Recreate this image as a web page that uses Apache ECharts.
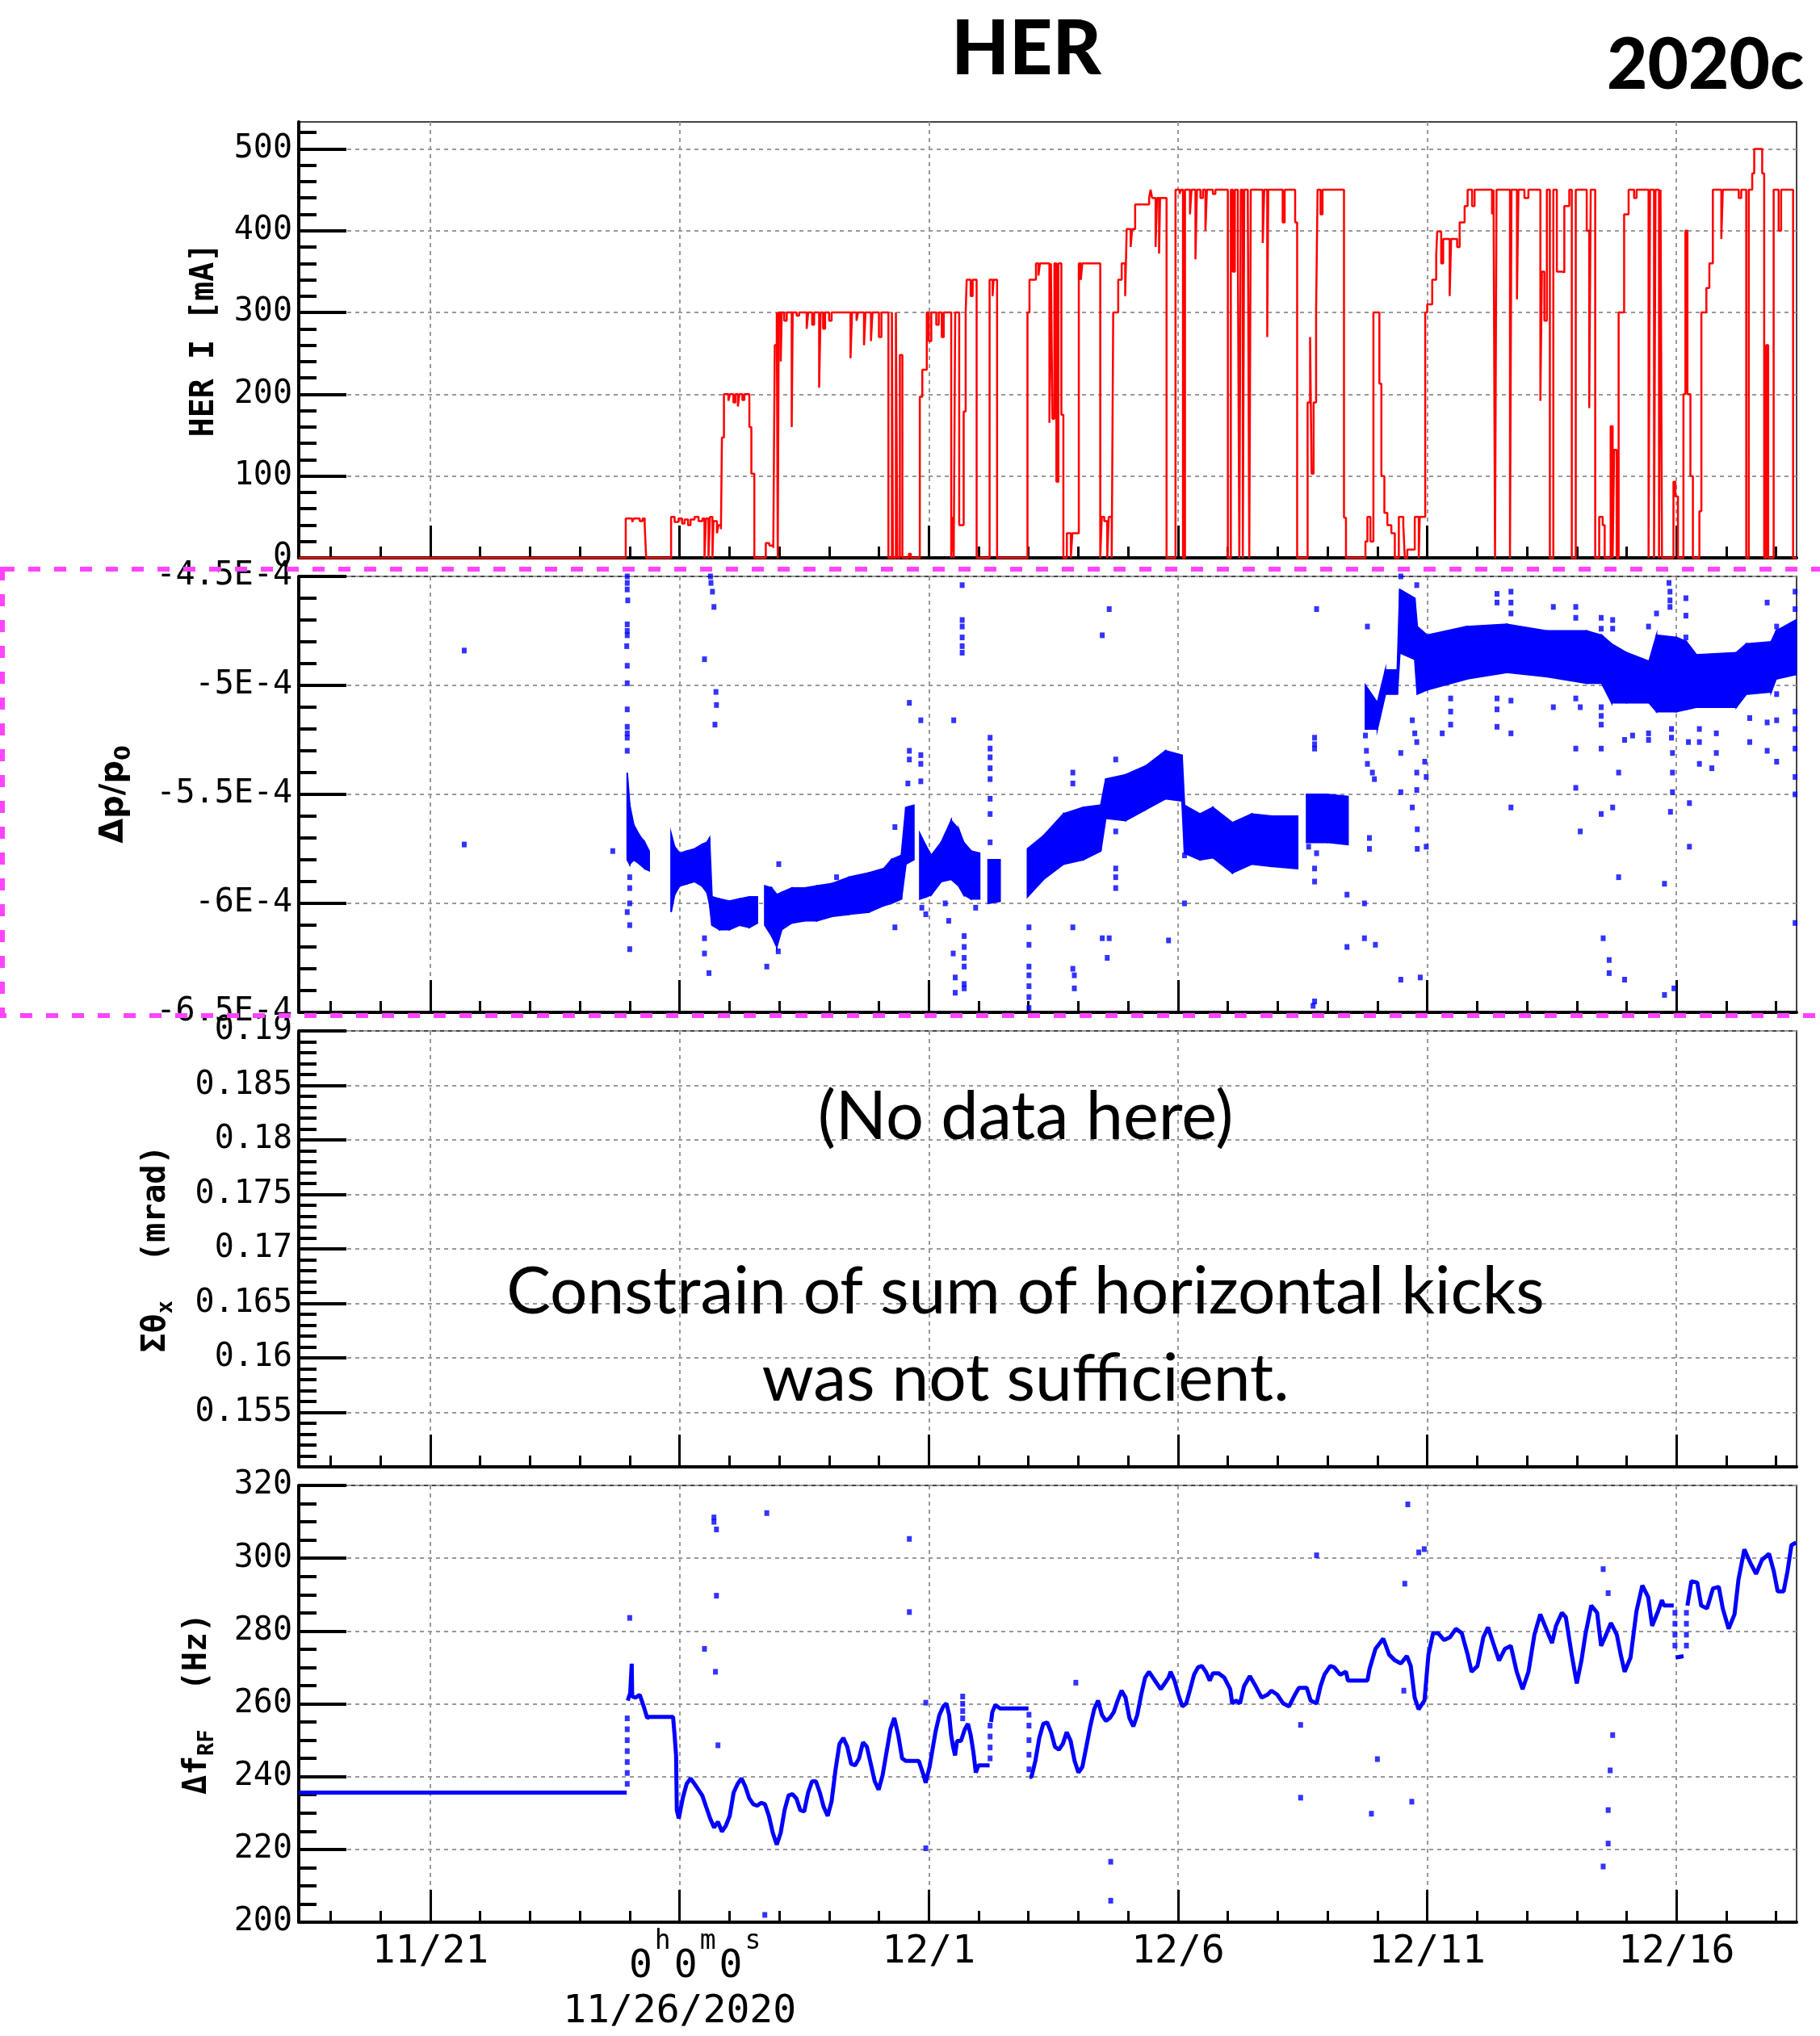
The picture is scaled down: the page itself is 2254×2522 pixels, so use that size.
<!DOCTYPE html>
<html><head><meta charset="utf-8">
<script src="https://cdn.jsdelivr.net/npm/echarts@6/dist/echarts.min.js"></script>
<style>html,body{margin:0;padding:0;background:#fff}#c{width:2254px;height:2522px}</style>
</head><body><div id="c"></div>
<script>
// ---------- time axis (days relative to 11/26/2020 00:00) ----------
const xMajorDays = [-5, 0, 5, 10, 15, 20];
const xMajorLabels = ['11/21', '0h0m0s', '12/1', '12/6', '12/11', '12/16'];
const xOriginDate = '11/26/2020';
const xMinorDays = [-7,-6,-4,-3,-2,-1,1,2,3,4,6,7,8,9,11,12,13,14,16,17,18,19,21,22];
const X_MIN = -7.64, X_MAX = 22.41;

// ---------- panel 1 : HER I [mA] ----------
const herMajor = [0,100,200,300,400,500];
const herMinor = [20,40,60,80,120,140,160,180,220,240,260,280,320,340,360,380,420,440,460,480,520];
const herCurrent = [
[-7.64,0],
[-1.08,48],[-0.95,44],[-0.92,48],[-0.80,45],[-0.74,48],[-0.70,40],[-0.67,0],
[-0.17,50],[-0.10,44],[-0.02,48],[0.05,42],[0.10,47],[0.17,40],[0.22,47],[0.30,50],[0.38,45],[0.46,48],[0.50,0],[0.53,48],[0.58,0],[0.61,50],[0.66,0],[0.68,45],[0.75,30],[0.78,40],[0.83,35],
[0.85,147],[0.89,200],[0.98,192],[1.01,200],[1.08,190],[1.12,200],[1.17,185],[1.20,200],[1.26,193],[1.30,200],[1.40,160],[1.44,103],[1.50,0],
[1.73,18],[1.80,15],[1.88,12],[1.91,260],[1.95,300],[1.97,0],[1.99,300],[2.03,240],[2.05,300],[2.10,290],[2.15,300],[2.25,160],[2.27,300],[2.35,296],[2.40,300],[2.55,280],[2.58,300],[2.66,285],[2.70,300],[2.80,208],[2.83,300],[2.88,280],[2.92,300],[3.00,290],[3.05,300],[3.43,244],[3.46,300],[3.55,290],[3.58,300],[3.70,260],[3.73,300],[3.84,265],[3.87,300],[4.00,270],[4.05,300],[4.19,0],[4.26,300],[4.28,0],[4.34,300],[4.37,0],[4.42,248],[4.47,0],[4.60,5],[4.64,0],
[4.82,197],[4.87,230],[4.96,300],[5.00,265],[5.05,300],[5.15,285],[5.20,300],[5.26,270],[5.30,300],[5.45,0],[5.47,50],[5.50,0],[5.53,300],[5.61,40],[5.70,179],[5.74,300],[5.76,340],[5.84,320],[5.88,340],[5.96,0],[6.22,340],[6.28,320],[6.30,340],[6.37,0],
[6.98,300],[7.02,340],[7.15,360],[7.20,345],[7.23,360],[7.42,165],[7.45,360],[7.48,170],[7.52,360],[7.56,93],[7.60,360],[7.66,175],[7.70,0],[7.77,30],[7.85,0],[7.88,30],[8.01,360],[8.05,340],[8.08,360],[8.44,0],[8.47,50],[8.52,45],[8.58,0],[8.61,50],[8.67,0],[8.70,300],[8.80,340],[8.87,360],[8.94,320],[8.97,402],[9.05,380],[9.08,402],[9.14,432],[9.42,440],[9.45,450],[9.48,440],[9.55,380],[9.58,440],[9.62,372],[9.64,440],[9.77,0],[9.95,450],[10.03,445],[10.06,450],[10.10,0],[10.14,450],[10.24,420],[10.27,450],
[10.35,365],[10.38,450],[10.45,440],[10.50,450],[10.55,400],[10.58,450],[10.70,445],[10.75,450],[11.00,0],[11.06,450],[11.10,350],[11.14,450],[11.20,380],[11.23,0],[11.26,450],[11.30,0],[11.33,450],[11.40,440],[11.43,0],[11.46,450],[11.70,385],[11.73,450],[11.79,270],[11.81,450],[12.10,410],[12.14,450],[12.35,410],[12.39,0],[12.60,190],[12.65,270],[12.68,103],[12.72,190],[12.77,300],[12.80,450],[12.86,420],[12.90,450],[13.33,49],[13.37,0],[13.76,20],[13.80,50],[13.86,20],[13.92,300],[14.04,213],[14.08,100],[14.14,55],[14.20,40],[14.28,30],[14.35,0],[14.43,50],[14.52,40],[14.55,0],[14.60,10],[14.75,50],[14.83,0],[14.85,50],[14.96,300],[15.00,310],[15.10,340],[15.18,370],[15.20,399],[15.28,360],[15.32,390],[15.45,320],[15.48,390],[15.60,380],[15.65,410],[15.75,430],[15.81,450],[15.90,430],[15.95,450],[16.30,420],[16.33,450],[16.36,0],[16.39,450],[16.66,0],[16.69,450],[16.80,316],[16.83,450],[16.95,440],[17.03,450],[17.27,192],[17.30,350],[17.35,290],[17.40,450],[17.46,0],[17.53,450],[17.60,350],[17.70,349],[17.75,430],[17.85,450],[17.90,0],[17.98,450],[18.20,400],[18.25,183],[18.28,450],[18.37,0],[18.45,50],[18.52,40],[18.56,0],[18.68,161],[18.72,0],[18.75,132],[18.80,0],[18.84,300],[18.95,420],[19.04,450],[19.15,440],[19.20,450],[19.44,0],[19.47,450],[19.55,0],[19.58,450],[19.65,0],[19.68,450],[19.71,0],[19.94,93],[19.98,75],[20.03,0],[20.14,200],[20.18,400],[20.22,200],[20.28,100],[20.33,0],[20.46,57],[20.50,300],[20.60,330],[20.66,360],[20.73,450],[20.90,390],[20.93,450],[21.25,440],[21.30,450],[21.40,0],[21.45,450],[21.52,470],[21.56,500],[21.72,470],[21.76,0],[21.80,260],[21.84,0],[21.95,450],[22.05,400],[22.10,450],[22.34,0],[22.41,0]
];

// ---------- panel 2 : Δp/p0 (in units of 1E-4) ----------
// band of the dense readings: [day, low, high]; null = no data
const dpBand = [
[-1.05,-5.80,-5.40],[-1.00,-5.82,-5.55],[-0.92,-5.80,-5.64],[-0.80,-5.82,-5.69],[-0.70,-5.84,-5.72],[-0.61,-5.85,-5.76],
null,
[-0.17,-6.04,-5.68],[-0.10,-5.96,-5.74],[0.00,-5.92,-5.77],[0.15,-5.91,-5.76],[0.30,-5.90,-5.75],[0.45,-5.92,-5.73],[0.55,-5.95,-5.72],[0.60,-6.00,-5.70],[0.65,-6.10,-5.97],[0.80,-6.12,-5.98],[1.00,-6.12,-5.99],[1.20,-6.10,-5.98],[1.40,-6.11,-5.97],[1.56,-6.09,-5.97],
null,
[1.71,-6.10,-5.92],[1.85,-6.15,-5.93],[1.95,-6.20,-5.96],[2.05,-6.12,-5.95],[2.25,-6.09,-5.93],[2.50,-6.08,-5.93],[2.75,-6.08,-5.92],[3.05,-6.06,-5.91],[3.40,-6.05,-5.88],[3.80,-6.04,-5.86],[4.10,-6.01,-5.84],[4.25,-6.00,-5.80],[4.45,-5.98,-5.78],[4.54,-5.82,-5.56],[4.70,-5.80,-5.55],
null,
[4.82,-5.98,-5.68],[4.95,-5.97,-5.74],[5.05,-5.96,-5.78],[5.25,-5.90,-5.72],[5.45,-5.89,-5.62],[5.60,-5.92,-5.66],[5.70,-5.96,-5.72],[5.85,-5.98,-5.76],[6.02,-5.98,-5.77],
null,
[6.19,-6.00,-5.80],[6.43,-5.99,-5.80],
null,
[6.98,-5.97,-5.75],[7.30,-5.89,-5.69],[7.70,-5.82,-5.59],[8.10,-5.80,-5.56],[8.45,-5.76,-5.55],[8.55,-5.61,-5.43],[8.95,-5.62,-5.41],[9.35,-5.57,-5.37],[9.75,-5.52,-5.30],[10.08,-5.53,-5.32],[10.13,-5.77,-5.55],[10.44,-5.80,-5.59],[10.70,-5.79,-5.56],[11.09,-5.86,-5.63],[11.48,-5.82,-5.59],[11.87,-5.83,-5.60],[12.40,-5.84,-5.60],
null,
[12.58,-5.72,-5.50],[13.00,-5.72,-5.50],[13.41,-5.73,-5.51],
null,
[13.76,-5.20,-5.00],[14.00,-5.20,-5.08],[14.16,-5.04,-4.93],[14.40,-5.04,-4.93],[14.45,-4.85,-4.56],[14.75,-4.88,-4.60],[14.80,-5.04,-4.73],[15.00,-5.02,-4.77],[15.80,-4.97,-4.73],[16.60,-4.94,-4.72],[17.40,-4.96,-4.75],[18.20,-4.99,-4.75],[18.50,-4.99,-4.77],[18.70,-5.08,-4.81],[19.00,-5.08,-4.85],[19.45,-5.08,-4.89],[19.60,-5.12,-4.77],[20.00,-5.12,-4.78],[20.20,-5.11,-4.80],[20.40,-5.10,-4.86],[21.20,-5.10,-4.85],[21.40,-5.04,-4.81],[21.90,-5.03,-4.80],[22.00,-4.97,-4.75],[22.40,-4.95,-4.70]
];
const dpOutliers = [
[-4.32,-4.84],[-4.32,-5.73],[-1.34,-5.76],
[-1.05,-4.50],[-1.05,-4.53],[-1.05,-4.56],[-1.04,-4.61],[-1.05,-4.72],[-1.05,-4.75],[-1.05,-4.77],[-1.06,-4.82],[-1.05,-4.91],[-1.05,-4.99],[-1.05,-5.11],[-1.05,-5.19],[-1.05,-5.22],[-1.05,-5.24],[-1.05,-5.30],[-1.00,-5.88],[-1.00,-5.93],[-1.00,-6.00],[-1.05,-6.04],[-1.00,-6.10],[-1.00,-6.21],
[0.62,-4.50],[0.63,-4.53],[0.66,-4.57],[0.69,-4.64],[0.73,-5.03],[0.74,-5.09],[0.71,-5.18],[0.50,-4.88],[0.50,-6.16],[0.50,-6.23],[0.59,-6.32],
[1.75,-6.29],[1.99,-5.82],[1.98,-6.22],[3.15,-5.88],[4.32,-5.65],[4.32,-6.11],
[4.61,-5.08],[4.61,-5.30],[4.61,-5.34],[4.58,-5.45],[4.84,-5.16],[4.84,-5.32],[4.84,-5.36],[4.84,-5.44],[4.86,-6.02],[4.94,-6.05],
[5.67,-4.54],[5.67,-4.70],[5.67,-4.73],[5.67,-4.78],[5.67,-4.82],[5.67,-4.85],[5.50,-5.16],
[5.33,-6.00],[5.40,-6.08],[5.49,-6.23],[5.53,-6.34],[5.53,-6.41],[5.71,-6.15],[5.71,-6.20],[5.71,-6.25],[5.71,-6.29],[5.71,-6.37],[5.71,-6.39],[5.94,-6.02],
[6.23,-5.24],[6.23,-5.29],[6.23,-5.33],[6.23,-5.38],[6.23,-5.43],[6.23,-5.52],[6.23,-5.59],[6.23,-5.72],
[7.01,-6.11],[7.01,-6.19],[7.01,-6.29],[7.01,-6.33],[7.01,-6.38],[7.01,-6.43],[7.01,-6.48],
[7.89,-5.40],[7.89,-5.45],[7.89,-6.11],[7.89,-6.30],[7.92,-6.33],[7.92,-6.39],
[8.48,-4.77],[8.62,-4.65],[8.48,-6.16],[8.62,-6.16],[8.58,-6.25],
[8.75,-5.34],[8.75,-5.67],[8.75,-5.84],[8.75,-5.88],[8.75,-5.93],
[9.81,-6.17],[10.13,-5.78],[10.13,-6.00],
[12.78,-4.65],[12.74,-5.24],[12.74,-5.27],[12.74,-5.29],[12.62,-5.74],[12.78,-5.77],[12.74,-5.84],[12.74,-5.90],[12.74,-6.45],[12.71,-6.47],
[13.39,-5.96],[13.39,-6.20],[13.74,-6.00],[13.74,-6.16],[13.96,-6.19],[13.80,-4.73],
[13.76,-5.23],[13.78,-5.30],[13.80,-5.36],[13.90,-5.40],[13.94,-5.43],[13.84,-5.70],[13.84,-5.75],
[14.47,-4.50],[14.79,-4.54],[14.47,-5.31],[14.47,-5.49],[14.47,-6.35],
[14.70,-5.16],[14.75,-5.22],[14.79,-5.26],[14.79,-5.40],[14.79,-5.48],[14.70,-5.56],[14.80,-5.66],[14.80,-5.75],[14.95,-5.35],[14.98,-5.42],[14.98,-5.74],[14.86,-6.34],
[15.30,-5.22],[15.47,-5.06],[15.47,-5.12],[15.47,-5.18],
[16.40,-4.58],[16.40,-4.62],[16.40,-5.06],[16.40,-5.11],[16.40,-5.19],
[16.68,-4.57],[16.68,-4.62],[16.68,-4.67],[16.68,-5.07],[16.68,-5.22],[16.68,-5.56],
[17.53,-4.64],[17.53,-5.10],
[17.98,-4.64],[17.98,-4.69],[17.98,-5.29],[17.98,-5.47],[17.98,-5.06],
[18.07,-5.10],[18.07,-5.67],
[18.49,-4.69],[18.49,-4.74],[18.49,-5.10],[18.49,-5.14],[18.49,-5.18],[18.49,-5.29],[18.49,-5.59],[18.53,-6.16],
[18.72,-4.70],[18.72,-4.74],[18.72,-5.56],[18.84,-5.40],[18.84,-5.88],[18.65,-6.26],[18.65,-6.32],[18.96,-6.35],
[19.12,-5.23],[18.96,-5.25],[19.44,-5.22],[19.44,-5.25],[19.44,-4.73],[19.60,-4.67],
[19.76,-5.91],[19.76,-6.42],
[19.85,-4.53],[19.87,-4.57],[19.87,-4.61],[19.87,-4.64],[19.90,-5.20],[19.90,-5.24],[19.92,-5.31],[19.92,-5.40],[19.92,-5.49],[19.88,-5.58],[19.95,-6.39],
[20.19,-4.60],[20.19,-4.68],[20.19,-4.78],[20.24,-5.26],[20.26,-5.54],[20.26,-5.74],
[20.46,-5.20],[20.46,-5.26],[20.46,-5.36],[20.71,-5.38],[20.80,-5.22],[20.80,-5.31],
[21.47,-5.26],[21.47,-5.15],
[21.82,-4.62],[21.82,-5.17],[21.82,-5.30],
[22.01,-4.73],[22.01,-5.04],[22.01,-5.16],[22.01,-5.35],
[22.38,-4.57],[22.38,-4.65],[22.38,-5.12],[22.38,-5.20],[22.38,-5.29],[22.38,-5.42],[22.38,-5.50],[22.38,-6.09]
];

// ---------- panel 3 : Σθx (mrad) — no data ----------
const sumThetaRange = [0.15, 0.19];

// ---------- panel 4 : ΔfRF (Hz) ----------
const rfLine = [
[-7.64,235.6],[-1.06,235.6],[-1.05,'-'],
[-1.04,260.9],[-0.99,263],[-0.96,271],[-0.95,262],[-0.88,261.7],[-0.80,262.5],[-0.72,259.3],[-0.65,256.1],[-0.61,256.4],[-0.13,256.4],[-0.10,251.4],[-0.07,245.8],[-0.06,236],[-0.055,230.8],[-0.016,228.5],[0.063,234],[0.142,238],[0.22,239.5],[0.30,238],[0.377,236.4],[0.456,234.8],[0.535,231.6],[0.613,228.5],[0.692,226],[0.77,227.6],[0.849,224.9],[0.928,226.5],[1.006,229.2],[1.085,235.6],[1.164,238],[1.242,239.5],[1.321,237.2],[1.399,234],[1.478,232.4],[1.557,232],[1.635,232.8],[1.714,232.4],[1.792,229.2],[1.871,224.5],[1.95,221.3],[2.028,224.5],[2.107,230.8],[2.186,234.8],[2.264,235.2],[2.343,234],[2.421,230.8],[2.50,230.4],[2.579,235.6],[2.657,238.7],[2.736,238.7],[2.814,235.6],[2.893,231.6],[2.972,229.2],[3.05,233.2],[3.129,241.9],[3.208,249],[3.286,250.6],[3.365,248.2],[3.443,243.5],[3.522,243.1],[3.601,245],[3.679,249.4],[3.758,248.2],[3.836,243.5],[3.915,238.7],[3.994,236.4],[4.072,240.3],[4.151,246.6],[4.23,253],[4.308,256.1],[4.387,251.4],[4.465,245],[4.544,244.3],[4.80,244.3],[4.897,240.3],[4.937,238.3],[5.016,242.7],[5.134,252.2],[5.212,256.9],[5.291,259.3],[5.354,260.1],[5.409,256.9],[5.448,251.4],[5.487,248.2],[5.527,245.8],[5.566,249.8],[5.645,249.8],[5.723,253],[5.786,254.5],[5.841,251.4],[5.896,246.6],[5.943,241.1],[5.998,243.1],[6.22,243.1],[6.23,'-'],
[6.25,255],[6.274,257.7],[6.336,259.7],[6.43,258.7],[7.00,258.7],[7.01,'-'],
[7.02,239.9],[7.06,239.9],[7.138,244.3],[7.217,250.6],[7.296,254.5],[7.374,254.9],[7.453,252.2],[7.531,248.2],[7.61,247.4],[7.689,249],[7.767,252.2],[7.846,249.8],[7.925,244.3],[8.003,241.1],[8.082,242.7],[8.16,248.2],[8.239,253.8],[8.318,258.5],[8.396,260.9],[8.475,256.9],[8.553,255.3],[8.632,256.1],[8.711,257.7],[8.789,260.9],[8.868,263.6],[8.947,261.7],[9.025,256.1],[9.104,253.8],[9.182,256.9],[9.261,262.5],[9.34,267.2],[9.418,268.8],[9.497,267.2],[9.575,265.6],[9.654,264],[9.733,265.6],[9.811,267.2],[9.851,268.8],[9.929,266.4],[10.008,262.5],[10.086,259.3],[10.165,260.1],[10.244,264],[10.322,268],[10.401,270],[10.48,270.4],[10.558,268.8],[10.637,266.4],
[10.70,268.4],[10.811,268.4],[10.929,267.2],[11.047,264],[11.087,260.1],[11.165,260.9],[11.244,260.1],[11.323,264.8],[11.441,267.6],[11.559,264.8],[11.677,261.7],[11.795,262.5],[11.874,263.6],[11.992,262.5],[12.11,260.1],[12.228,259.3],[12.346,262.5],[12.425,264.4],[12.583,264.4],[12.661,260.9],[12.78,260.1],[12.858,264.8],[12.937,268],[13.055,270.4],[13.134,270],[13.252,268],[13.37,268.8],[13.409,266.4],[13.80,266.4],[13.843,269.6],[13.961,275.1],[14.118,277.9],[14.236,273.5],[14.354,271.9],[14.472,271.1],[14.591,273.1],[14.669,270.4],[14.748,261.7],[14.827,258.5],[14.945,260.9],[15.024,273.5],[15.118,279.4],[15.22,279.4],[15.339,277.5],[15.457,278.3],[15.575,280.6],[15.693,279.4],[15.811,273.5],[15.89,268.8],[16.008,270.4],[16.126,278.3],[16.22,281],[16.323,276.7],[16.441,271.9],[16.559,275.1],[16.677,275.9],[16.795,268.8],[16.913,264],[17.031,268.8],[17.15,279],[17.268,284.6],[17.386,280.6],[17.504,276.7],[17.583,281.4],[17.701,285],[17.78,283.8],[17.898,273.5],[18.0,265.6],[18.094,271.9],[18.173,279],[18.291,287],[18.409,285],[18.488,275.9],[18.567,278.3],[18.685,282.2],[18.803,279],[18.882,273.5],[18.961,268.8],[19.079,272.7],[19.197,285.4],[19.315,292.5],[19.433,289.3],[19.512,281.4],[19.63,285.4],[19.709,288.5],[19.748,287],[19.945,287],[19.96,'-'],
[19.984,272.7],[20.142,273.1],[20.20,'-'],
[20.22,287],[20.299,293.7],[20.417,293.3],[20.496,287],[20.614,286.2],[20.732,291.7],[20.85,292.1],[20.929,286.2],[21.047,280.6],[21.165,284.6],[21.244,294.1],[21.362,302.4],[21.48,298.8],[21.598,295.7],[21.717,299.6],[21.858,301.2],[21.953,296.4],[22.031,290.9],[22.15,290.9],[22.228,296.4],[22.307,303.6],[22.40,304.3]
];
const rfDots = [
[-1.05,238],[-1.05,241],[-1.05,244],[-1.05,247],[-1.05,250],[-1.05,253],[-1.05,256],[-1.00,283.6],
[0.69,311.2],[0.69,310],[0.74,307.9],[0.74,289.7],[0.50,275.1],[0.72,268.8],[0.77,248.6],[1.75,312.4],[1.71,202],
[4.61,305.3],[4.61,285.2],[4.94,260.3],[4.94,220.3],
[5.68,256],[5.68,258],[5.68,260],[5.68,262],
[6.23,245],[6.23,248],[6.23,251],[6.23,254],
[7.01,242],[7.01,246],[7.01,250],[7.01,254],[7.01,257],
[7.95,265.8],[8.65,216.6],[8.65,205.9],
[12.78,300.8],[14.55,293],[14.61,314.8],[14.83,301.6],[14.94,302.5],[12.46,254.2],[12.46,234.2],[14.00,244.8],[13.88,229.8],[14.69,233.1],[14.53,263.6],
[18.53,297],[18.53,215.3],[18.63,290.4],[18.63,230.8],[18.63,221.6],[18.67,241.7],[18.72,251.4],
[19.97,285],[19.97,282],[19.97,279],[19.97,276],[20.20,276],[20.20,279],[20.20,282],[20.20,285]
];

// ---------- text ----------
const mainTitle = 'HER';
const runTag = '2020c';
const noteLines = ['(No data here)', 'Constrain of sum of horizontal kicks', 'was not sufficient.'];

// ---------- build ----------
const MONO = 'DejaVu Sans Mono';
const GRID_STYLE = {color:'#999', width:2, type:[5,5]};
const gridBoxes = [
  {top:151, height:540}, {top:714, height:540}, {top:1277, height:540}, {top:1840, height:541}
].map(g => Object.assign({left:370, right:29, show:true, borderColor:'#444', borderWidth:2, backgroundColor:'transparent'}, g));

function xLabelFmt(v) {
  const i = xMajorDays.indexOf(Math.round(v));
  const lab = i >= 0 ? xMajorLabels[i] : '';
  if (/^\d[hms]/.test(lab)) {
    let r = lab.replace(/(\d)([hms])/g, '{z|$1}{s|$2}');
    r = r.replace('{z|', '{z0|');
    return r + '\n{d|' + xOriginDate + '}';
  }
  return '{n|' + lab + '}';
}
function xMajor(gi, withLabels) {
  return {type:'value', gridIndex:gi, position:'bottom', min:X_MIN, max:X_MAX,
    axisLine:{show:true, onZero:false, lineStyle:{color:'#000', width:4}},
    axisTick:{show:true, inside:true, length:40, customValues:xMajorDays, lineStyle:{color:'#000', width:3}},
    splitLine:{show:true, lineStyle:GRID_STYLE},
    axisLabel:{show:withLabels, customValues:xMajorDays, margin:8, formatter:xLabelFmt,
      rich:{
        n:{fontFamily:MONO, fontSize:48, color:'#000', lineHeight:60, verticalAlign:'middle'},
        z0:{fontFamily:MONO, fontSize:48, color:'#000', lineHeight:72, verticalAlign:'bottom', padding:[0,0,0,42]},
        z:{fontFamily:MONO, fontSize:48, color:'#000', lineHeight:72, verticalAlign:'bottom'},
        s:{fontFamily:MONO, fontSize:33, color:'#000', lineHeight:40, verticalAlign:'top', padding:[0,4,0,3]},
        d:{fontFamily:MONO, fontSize:48, color:'#000', lineHeight:64, verticalAlign:'middle'}
      }}
  };
}
function xMinor(gi) {
  return {type:'value', gridIndex:gi, position:'bottom', min:X_MIN, max:X_MAX,
    axisLine:{show:false, onZero:false},
    axisTick:{show:true, inside:true, length:14, customValues:xMinorDays, lineStyle:{color:'#000', width:3}},
    splitLine:{show:false}, axisLabel:{show:false}};
}
function nameRich(fam) {
  return {
    m:{fontFamily:fam, fontWeight:'bold', fontSize:40, color:'#000', lineHeight:50, verticalAlign:'middle'},
    sub:{fontFamily:fam, fontWeight:'bold', fontSize:27, color:'#000', lineHeight:50, verticalAlign:'bottom'}
  };
}
function yBase(gi, extra) {
  return Object.assign({type:'value', gridIndex:gi, position:'left',
    axisLine:{show:true, onZero:false, lineStyle:{color:'#000', width:4}},
    axisTick:{show:true, inside:true, length:59, lineStyle:{color:'#000', width:4}},
    minorTick:{show:true, length:22, lineStyle:{color:'#000', width:4}},
    axisLabel:{margin:8, fontFamily:MONO, fontSize:40, color:'#000'},
    splitLine:{show:true, lineStyle:GRID_STYLE},
    nameLocation:'middle', nameRotate:90
  }, extra);
}

const yAxes = [
  yBase(0, {min:0, max:533,
    axisTick:{show:true, inside:true, length:59, customValues:herMajor, lineStyle:{color:'#000', width:4}},
    minorTick:{show:false},
    axisLabel:{margin:8, fontFamily:MONO, fontSize:40, color:'#000', customValues:herMajor},
    name:'{m|HER I [mA]}', nameGap:91, nameTextStyle:{rich:nameRich(MONO)}}),
  {type:'value', gridIndex:0, position:'left', min:0, max:533,
    axisLine:{show:false, onZero:false},
    axisTick:{show:true, inside:true, length:22, customValues:herMinor, lineStyle:{color:'#000', width:4}},
    axisLabel:{show:false}, splitLine:{show:false}},
  yBase(1, {min:-6.5, max:-4.5, interval:0.5, minorTick:{show:true, splitNumber:5, length:22, lineStyle:{color:'#000', width:4}},
    axisLabel:{margin:8, fontFamily:MONO, fontSize:40, color:'#000', formatter:v => v + 'E-4'},
    name:'{m|Δp/p}{sub|0}', nameGap:203, nameTextStyle:{rich:nameRich('DejaVu Sans')}}),
  yBase(2, {min:sumThetaRange[0], max:sumThetaRange[1], interval:0.005, minorTick:{show:true, splitNumber:5, length:22, lineStyle:{color:'#000', width:4}},
    axisLabel:{margin:8, fontFamily:MONO, fontSize:40, color:'#000', showMinLabel:false, formatter:v => String(+v.toFixed(3))},
    name:'{m|Σθ}{sub|x}{m|  (mrad)}', nameGap:151, nameTextStyle:{rich:nameRich(MONO)}}),
  yBase(3, {min:200, max:320, interval:20, minorTick:{show:true, splitNumber:4, length:22, lineStyle:{color:'#000', width:4}},
    name:'{m|Δf}{sub|RF}{m|  (Hz)}', nameGap:100, nameTextStyle:{rich:nameRich(MONO)}})
];

const bandSegments = [];
for (let i = 0; i < dpBand.length - 1; i++) {
  const a = dpBand[i], b = dpBand[i + 1];
  if (a && b) bandSegments.push([a[0], a[1], a[2], b[0], b[1], b[2]]);
}

const option = {
  animation:false,
  backgroundColor:'#fff',
  grid: gridBoxes,
  xAxis: [xMajor(0,false), xMinor(0), xMajor(1,false), xMinor(1), xMajor(2,false), xMinor(2), xMajor(3,true), xMinor(3)],
  yAxis: yAxes,
  series: [
    {type:'line', xAxisIndex:0, yAxisIndex:0, step:'end', data:herCurrent, symbol:'none', clip:false,
      lineStyle:{color:'#ff0000', width:2.5}, itemStyle:{color:'#ff0000'}},
    {type:'custom', xAxisIndex:2, yAxisIndex:2, data:bandSegments,
      renderItem:(params, api) => {
        const p0l = api.coord([api.value(0), api.value(1)]);
        const p0h = api.coord([api.value(0), api.value(2)]);
        const p1l = api.coord([api.value(3), api.value(4)]);
        const p1h = api.coord([api.value(3), api.value(5)]);
        return {type:'polygon', shape:{points:[p0l, p0h, p1h, p1l]}, style:{fill:'#0000ff', stroke:'#0000ff', lineWidth:2}};
      }},
    {type:'scatter', xAxisIndex:2, yAxisIndex:2, data:dpOutliers, symbol:'rect', symbolSize:[6,7],
      itemStyle:{color:'#0000ff'}},
    {type:'line', xAxisIndex:6, yAxisIndex:4, data:rfLine, symbol:'none', connectNulls:false,
      lineStyle:{color:'#0000ff', width:5}, itemStyle:{color:'#0000ff'}},
    {type:'scatter', xAxisIndex:6, yAxisIndex:4, data:rfDots, symbol:'rect', symbolSize:[6,7],
      itemStyle:{color:'#0000ff'}}
  ],
  graphic: [
    {type:'text', x:1271, y:62, z:50, style:{text:mainTitle, fontFamily:'Lato', fontWeight:900, fontSize:93, fill:'#000',
      align:'center', verticalAlign:'middle', textAlign:'center', textVerticalAlign:'middle'}},
    {type:'text', x:2234, y:82, z:50, style:{text:runTag, fontFamily:'Lato', fontWeight:900, fontSize:87, fill:'#000',
      align:'right', verticalAlign:'middle', textAlign:'right', textVerticalAlign:'middle'}},
    {type:'text', x:1270, y:1384, z:50, style:{text:noteLines[0], fontFamily:'Lato', fontSize:83, fill:'#000',
      align:'center', verticalAlign:'middle', textAlign:'center', textVerticalAlign:'middle'}},
    {type:'text', x:1270, y:1601, z:50, style:{text:noteLines[1], fontFamily:'Lato', fontSize:82, fill:'#000',
      align:'center', verticalAlign:'middle', textAlign:'center', textVerticalAlign:'middle'}},
    {type:'text', x:1270, y:1709, z:50, style:{text:noteLines[2], fontFamily:'Lato', fontSize:82, fill:'#000',
      align:'center', verticalAlign:'middle', textAlign:'center', textVerticalAlign:'middle'}},
    {type:'rect', z:100, shape:{x:3, y:705, width:2270, height:553},
      style:{fill:'none', stroke:'#ff44ff', lineWidth:6, lineDash:[15,17]}}
  ]
};

const chart = echarts.init(document.getElementById('c'), null, {renderer:'canvas', width:2254, height:2522});
chart.setOption(option);
</script>
</body></html>
